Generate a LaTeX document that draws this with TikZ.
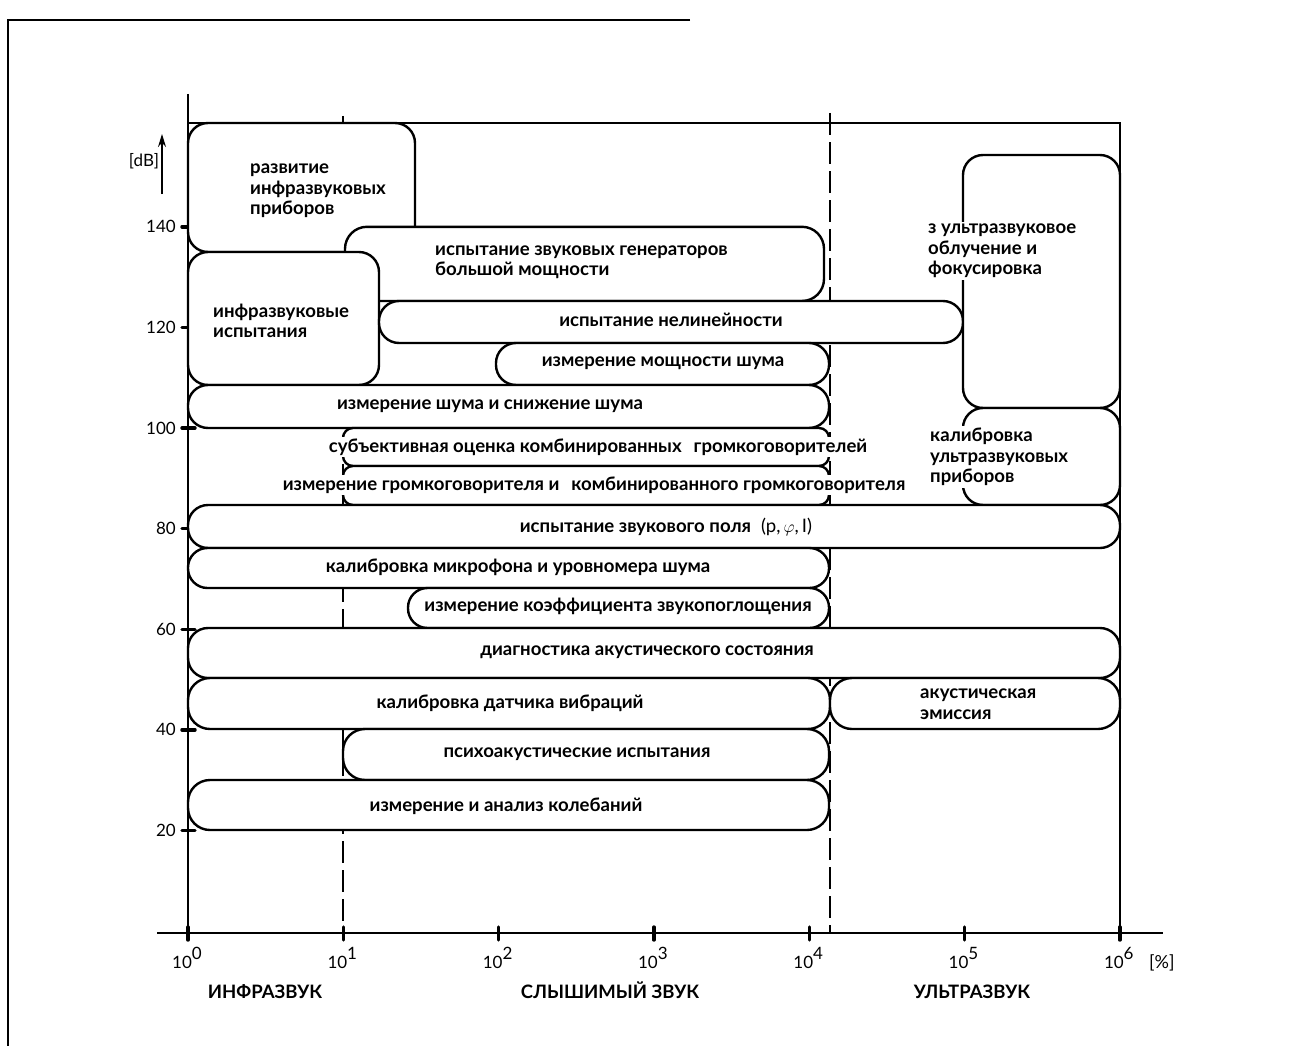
\documentclass[tikz,border=0pt]{standalone}
\usepackage{fontspec}
\setmainfont{Lato}
\usetikzlibrary{arrows.meta}
\begin{document}
\begin{tikzpicture}[x=1pt,y=-1pt,
  band/.style={draw=black,line width=2.4pt,fill=white,rounded corners=#1},
  band/.default=20pt,
  axisline/.style={line width=1.4pt},
  divline/.style={line width=1.6pt,dash pattern=on 22pt off 7pt},
  tickmark/.style={line width=3.4pt,line cap=round},
  txt/.style={font=\fontsize{18.6}{20.5}\selectfont\bfseries,inner sep=2pt,fill=white,align=left},
  num/.style={font=\fontsize{17}{19}\selectfont,inner sep=0pt},
  cat/.style={font=\fontsize{18.5}{20}\selectfont\bfseries,inner sep=0pt,anchor=base},
]
\useasboundingbox (0,0) rectangle (1292,1046);
\fill[white] (0,0) rectangle (1292,1046);
% outer frame of the page
\coordinate (fA) at (690,20); \coordinate (fB) at (8,20); \coordinate (fC) at (8,1046);
\draw[line width=1.6pt] (fA) -- (fB) -- (fC);
% axes and dividers
\coordinate (yTop) at (188,94); \coordinate (yBot) at (188,940);
\coordinate (xL) at (157,933); \coordinate (xR) at (1163,933);
\coordinate (tl) at (188,123); \coordinate (tr) at (1120,123); \coordinate (br) at (1120,933);
\coordinate (d1t) at (343,116); \coordinate (d1b) at (343,933);
\coordinate (d4t) at (830,113); \coordinate (d4b) at (830,933);
\draw[divline] (d1t) -- (d1b);
\draw[divline] (d4t) -- (d4b);
\draw[axisline] (yTop) -- (yBot);
\draw[axisline] (xL) -- (xR);
\draw[axisline] (tl) -- (tr) -- (br);
% x ticks and labels
\foreach \k in {0,...,6}{
  \pgfmathsetmacro{\xx}{188+155.3*\k}
  \draw[tickmark] (\xx,927) -- (\xx,940);
  \node[num,anchor=base west] (xt\k) at (\xx-16,968) {10\raisebox{0.5em}{\k}};
}
\node[num,anchor=base west,font=\fontsize{18}{20}\selectfont] (pct) at (1149,968) {[\%]};
% y ticks and labels
\foreach \v in {20,40,...,140}{
  \pgfmathsetmacro{\yy}{931-5.03*\v}
  \draw[tickmark] (182,\yy) -- (195,\yy);
  \node[num,anchor=east] (yt\v) at (176,\yy) {\v};
}
\coordinate (arS) at (162,194); \coordinate (arE) at (162,134);
\draw[line width=1.4pt,-{Stealth[length=13pt,width=8pt]}] (arS) -- (arE);
\node[num] (dB) at (144,161) {[dB]};
% category labels
\node[cat] (c1) at (265,998) {ИНФРАЗВУК};
\node[cat] (c2) at (610,998) {СЛЫШИМЫЙ ЗВУК};
\node[cat] (c3) at (972,998) {УЛЬТРАЗВУК};
% bands
\draw[band] (188,123) rectangle (415,252);
\draw[band=22pt] (345,226.8) rectangle (824,301);
\draw[band] (188,252) rectangle (379,385);
\draw[band] (379,301) rectangle (963,343);
\draw[band] (496,343) rectangle (829,385);
\draw[band] (963,155) rectangle (1120,408);
\draw[band] (963,408) rectangle (1120,505);
\draw[band] (188,385) rectangle (829,428);
\draw[band=10pt] (343,428) rectangle (829,466);
\draw[band=10pt] (343,466) rectangle (829,505);
\draw[band] (188,505) rectangle (1120,548);
\draw[band=19.5pt] (188,548) rectangle (829,588);
\draw[band=19.5pt] (408,588) rectangle (829,628);
\draw[band] (188,628) rectangle (1120,678);
\draw[band=22pt] (188,678) rectangle (830,729);
\draw[band=22pt] (830,678) rectangle (1120,729);
\draw[band=22pt] (343,729) rectangle (829,780);
\draw[band=22pt] (188,780) rectangle (829,830);
% texts
\node[txt,anchor=west] (t1) at (248,191) {развитие\\инфразвуковых\\приборов};
\node[txt,anchor=west] (t2) at (433,262) {испытание звуковых генераторов\\большой мощности};
\node[txt,anchor=west] (t3) at (211,321) {инфразвуковые\\испытания};
\node[txt] (t4) at (671,320) {испытание нелинейности};
\node[txt] (t5) at (663,363) {измерение мощности шума};
\node[txt] (t6) at (490,406) {измерение шума и снижение шума};
\node[txt] (t7) at (598,447) {субъективная оценка комбинированных\hspace{0.4em} громкоговорителей};
\node[txt] (t8) at (594,485) {измерение громкоговорителя и\hspace{0.4em} комбинированного громкоговорителя};
\node[txt] (t9) at (666,527) {испытание звукового поля\hspace{0.3em} {\mdseries(p,\,$\varphi$,\,I)}};
\node[txt] (t10) at (518,567) {калибровка микрофона и уровномера шума};
\node[txt] (t11) at (618,606) {измерение коэффициента звукопоглощения};
\node[txt] (t12) at (647,652) {диагностика акустического состояния};
\node[txt] (t13) at (510,703) {калибровка датчика вибраций};
\node[txt,anchor=west] (t13b) at (918,704) {акустическая\\эмиссия};
\node[txt] (t14) at (577,754) {психоакустические испытания};
\node[txt] (t15) at (506,806) {измерение и анализ колебаний};
\node[txt,anchor=west] (tu1) at (926,251) {з ультразвуковое\\облучение и\\фокусировка};
\node[txt,anchor=west] (tu2) at (928,457) {калибровка\\ультразвуковых\\приборов};
\end{tikzpicture}
\end{document}
